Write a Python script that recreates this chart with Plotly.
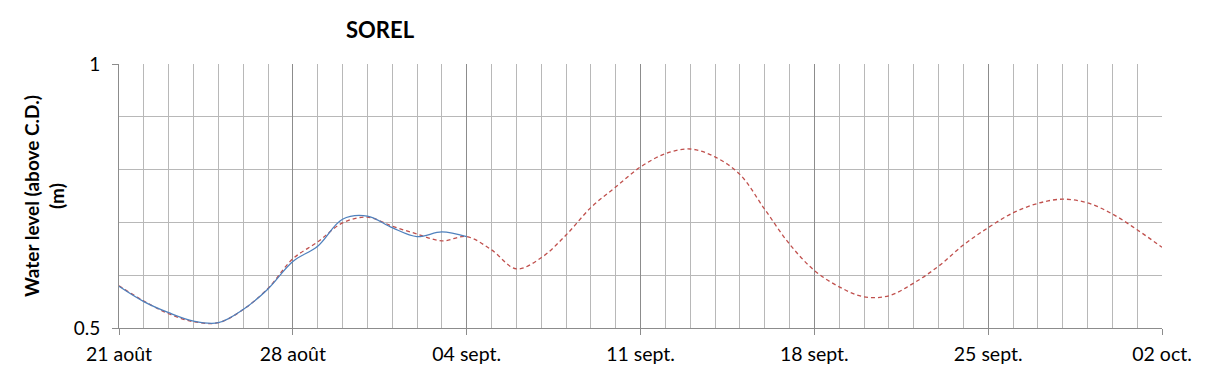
import plotly.graph_objects as go
import pandas as pd

start = pd.Timestamp("2013-08-21")
forecast_vals = [0.580, 0.551, 0.527, 0.512, 0.510, 0.535, 0.575, 0.631, 0.663, 0.699,
                 0.710, 0.693, 0.678, 0.665, 0.673, 0.648, 0.612, 0.633, 0.676, 0.728,
                 0.767, 0.805, 0.830, 0.839, 0.824, 0.791, 0.725, 0.659, 0.609, 0.578,
                 0.559, 0.561, 0.585, 0.617, 0.657, 0.690, 0.718, 0.736, 0.744, 0.737,
                 0.716, 0.686, 0.653]
observed_vals = [0.579, 0.550, 0.529, 0.513, 0.510, 0.535, 0.574, 0.626, 0.655, 0.706,
                 0.712, 0.690, 0.673, 0.682, 0.673]
tick_labels = ["21 août", "28 août", "04 sept.", "11 sept.", "18 sept.", "25 sept.", "02 oct."]

forecast_dates = pd.date_range(start, periods=len(forecast_vals), freq="D")
observed_dates = pd.date_range(start, periods=len(observed_vals), freq="D")
tick_dates = pd.date_range(start, periods=len(tick_labels), freq="7D")

fig = go.Figure()
fig.add_trace(go.Scatter(x=forecast_dates, y=forecast_vals, mode="lines",
                         line=dict(color="#C0504D", width=1.3, dash="4px,3px", shape="spline"),
                         showlegend=False))
fig.add_trace(go.Scatter(x=observed_dates, y=observed_vals, mode="lines",
                         line=dict(color="#4F81BD", width=1.3, shape="spline"),
                         showlegend=False))

font = "Lato, 'Open Sans', sans-serif"
# page has an 8px body margin; figure coordinates = screen - 8
OFF = 8
FW, FH = 1209 - OFF, 378 - OFF
L, R, T, B = 119 - OFF, 1162 - OFF, 64 - OFF, 328 - OFF
W = R - L
H = B - T
fig.update_layout(
    width=FW, height=FH,
    margin=dict(l=L, r=FW - R, t=T, b=FH - B),
    paper_bgcolor="white", plot_bgcolor="white",
    font=dict(family=font, color="black"),
    xaxis=dict(
        range=[forecast_dates[0], forecast_dates[-1]],
        tickvals=tick_dates, ticktext=tick_labels,
        tickfont=dict(size=19.5), ticklabelstandoff=3,
        showgrid=True, gridcolor="#8C8C8C", gridwidth=1,
        minor=dict(dtick=86400000, showgrid=True, gridcolor="#B8B8B8", gridwidth=1,
                   tick0=forecast_dates[0]),
        ticks="outside", ticklen=6, tickcolor="#8C8C8C",
        showline=True, linecolor="#8C8C8C", linewidth=1,
        zeroline=False, automargin=False,
    ),
    yaxis=dict(
        range=[0.5, 1.0],
        tickvals=[0.5, 1.0], ticktext=["0.5", "1"],
        tickfont=dict(size=19), ticklabelstandoff=8,
        showgrid=True, gridcolor="#B8B8B8", gridwidth=1,
        minor=dict(dtick=0.1, tick0=0.5, showgrid=True, gridcolor="#B8B8B8", gridwidth=1),
        ticks="outside", ticklen=6, tickcolor="#8C8C8C",
        showline=True, linecolor="#8C8C8C", linewidth=1,
        zeroline=False, automargin=False,
    ),
    annotations=[
        dict(text="<b>SOREL</b>", x=(380 - 119) / W, y=(328 - 30) / H,
             xref="paper", yref="paper", xanchor="center", yanchor="middle",
             showarrow=False, font=dict(size=22)),
        dict(text="<b>Water level (above C.D.)<br>(m)</b>", x=(44 - 119) / W, y=(328 - 196) / H,
             xref="paper", yref="paper", xanchor="center", yanchor="middle",
             textangle=-90, showarrow=False, font=dict(size=19)),
    ],
)

fig.write_html("out.html")
